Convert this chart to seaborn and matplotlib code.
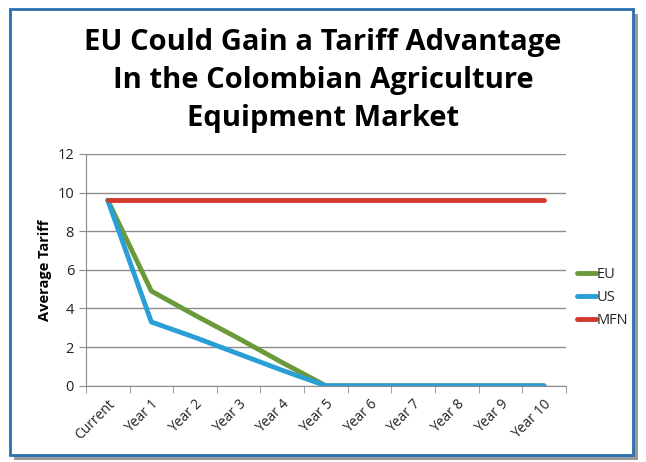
import numpy as np
import pandas as pd
import matplotlib.pyplot as plt
import seaborn as sns
from matplotlib.patches import Rectangle

sns.set_style('white')
plt.rcParams['font.family'] = ['Open Sans', 'DejaVu Sans']

# data
periods = ['Current', 'Year 1', 'Year 2', 'Year 3', 'Year 4', 'Year 5',
           'Year 6', 'Year 7', 'Year 8', 'Year 9', 'Year 10']
eu = [9.6, 4.9, 3.65, 2.45, 1.2, 0, 0, 0, 0, 0, 0]
us = [9.6, 3.3, 2.5, 1.65, 0.8, 0, 0, 0, 0, 0, 0]
mfn = [9.6] * 11

df = pd.DataFrame({
    'period': periods * 3,
    'tariff': eu + us + mfn,
    'series': ['EU'] * 11 + ['US'] * 11 + ['MFN'] * 11,
})
colors = {'EU': '#6a9a3a', 'US': '#2a9fd6', 'MFN': '#d23b2c'}

fig = plt.figure(figsize=(6.46, 4.62), dpi=100)
# blue frame with a small shadow
fig.patches.append(Rectangle((0.022, 0.005), 0.965, 0.965, transform=fig.transFigure,
                             facecolor='#9a9a9a', edgecolor='none', zorder=-2))
fig.patches.append(Rectangle((0.015, 0.015), 0.965, 0.965, transform=fig.transFigure,
                             facecolor='white', edgecolor='#2a6fb0', linewidth=2, zorder=-1))

ax = fig.add_axes([0.133, 0.165, 0.743, 0.502])
sns.lineplot(data=df, x='period', y='tariff', hue='series', palette=colors,
             linewidth=3.5, ax=ax, sort=False)
ax.set_xlim(-0.5, 10.5)
ax.set_ylim(0, 12)
ax.set_yticks(range(0, 13, 2))
ax.yaxis.grid(True, color='#8c8c8c', linewidth=1)
ax.set_axisbelow(True)
for s in ['top', 'right']:
    ax.spines[s].set_visible(False)
for s in ['left', 'bottom']:
    ax.spines[s].set_color('#8c8c8c')

ax.set_xticks(range(11))
ax.set_xticklabels(periods, rotation=45, ha='right', rotation_mode='anchor',
                   fontsize=10, color='#222222')
ax.set_xticks(np.arange(-0.5, 11, 1), minor=True)
ax.tick_params(axis='x', which='major', length=0, pad=8)
ax.tick_params(axis='x', which='minor', length=5, color='#8c8c8c', bottom=True)
ax.tick_params(axis='y', length=5, color='#8c8c8c', left=True, labelsize=10.5,
               labelcolor='#222222')
ax.set_xlabel('')
ax.set_ylabel('Average Tariff', fontsize=10.5, fontweight='bold', color='black')

leg = ax.legend(loc='center left', bbox_to_anchor=(0.995, 0.38), frameon=False,
                handlelength=1.3, handletextpad=0.05, labelspacing=0.55, fontsize=10.5)
for line in leg.get_lines():
    line.set_linewidth(3.5)

fig.text(0.50, 0.826, 'EU Could Gain a Tariff Advantage\nIn the Colombian Agriculture\nEquipment Market',
         ha='center', va='center', fontsize=21, fontweight='bold', linespacing=1.4,
         color='black')

fig.savefig('out.png', dpi=100)
